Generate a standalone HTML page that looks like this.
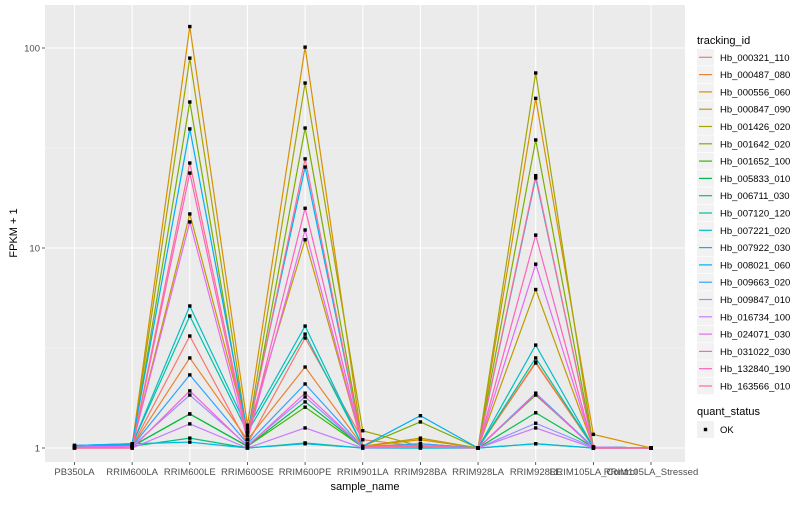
<!DOCTYPE html>
<html><head><meta charset="utf-8"><style>
body{margin:0;background:#fff;font-family:"Liberation Sans",sans-serif}
svg text{font-family:"Liberation Sans",sans-serif}
</style></head><body>
<svg id="chart" width="800" height="500"></svg>
<script>
const categories=["PB350LA","RRIM600LA","RRIM600LE","RRIM600SE","RRIM600PE","RRIM901LA","RRIM928BA","RRIM928LA","RRIM928LE","RRIM105LA_Control","RRIM105LA_Stressed"];
const seriesNames=["Hb_000321_110","Hb_000487_080","Hb_000556_060","Hb_000847_090","Hb_001426_020","Hb_001642_020","Hb_001652_100","Hb_005833_010","Hb_006711_030","Hb_007120_120","Hb_007221_020","Hb_007922_030","Hb_008021_060","Hb_009663_020","Hb_009847_010","Hb_016734_100","Hb_024071_030","Hb_031022_030","Hb_132840_190","Hb_163566_010"];
const colors=["#F8766D","#EA8331","#D89000","#C09B00","#A3A500","#7CAE00","#39B600","#00BB4E","#00BF7D","#00C1A3","#00BFC4","#00BAE0","#00B0F6","#35A2FF","#9590FF","#C77CFF","#E76BF3","#FA62DB","#FF62BC","#FF6C91"];
const seriesValues=[
[1.01,1.02,3.63,1.05,3.55,1.1,1.02,1.0,2.66,1.01,1.0],
[1.01,1.02,2.82,1.1,2.54,1.02,1.05,1.0,2.69,1.01,1.0],
[1.01,1.03,128,1.3,101,1.02,1.1,1.0,56,1.17,1.0],
[1.01,1.02,14.8,1.2,11,1.02,1.12,1.0,6.2,1.01,1.0],
[1.01,1.02,89,1.15,66.8,1.22,1.02,1.0,75,1.01,1.0],
[1.01,1.02,53.7,1.1,39.8,1.02,1.35,1.0,34.7,1.01,1.0],
[1.01,1.02,1.48,1.02,1.6,1.01,1.02,1.0,1.84,1.01,1.0],
[1.01,1.02,1.48,1.02,1.7,1.01,1.02,1.0,1.5,1.01,1.0],
[1.01,1.02,1.12,1.0,1.06,1.0,1.0,1.0,1.05,1.0,1.0],
[1.01,1.04,4.57,1.2,3.71,1.02,1.02,1.0,2.82,1.01,1.0],
[1.01,1.04,5.13,1.25,4.07,1.02,1.02,1.0,3.27,1.01,1.0],
[1.03,1.05,1.07,1.0,1.05,1.0,1.0,1.0,1.05,1.0,1.0],
[1.03,1.05,39.4,1.2,25.4,1.02,1.45,1.0,22.4,1.01,1.0],
[1.01,1.02,2.32,1.05,2.09,1.01,1.05,1.0,1.88,1.01,1.0],
[1.01,1.02,1.84,1.03,1.8,1.01,1.03,1.0,1.33,1.01,1.0],
[1.01,1.0,1.32,1.0,1.26,1.0,1.01,1.0,1.26,1.0,1.0],
[1.01,1.02,13.5,1.1,12.3,1.02,1.02,1.0,8.3,1.01,1.0],
[1.0,1.0,1.93,1.02,1.88,1.01,1.02,1.0,1.86,1.0,1.0],
[1.0,1.0,23.7,1.1,15.8,1.02,1.02,1.0,11.6,1.0,1.0],
[1.0,1.0,26.6,1.15,27.9,1.02,1.02,1.0,23,1.0,1.0]];
const yTicks=[1,10,100];
const yMinor=[Math.sqrt(10),Math.sqrt(1000)];
</script>
<script>
const NS="http://www.w3.org/2000/svg";
const svg=document.getElementById("chart");
function el(t,a,p){const e=document.createElementNS(NS,t);for(const k in a)e.setAttribute(k,a[k]);(p||svg).appendChild(e);return e;}
const PL=45,PR=685,PT=5,PB=462;
const x=i=>74.5+i*57.65;
const y=v=>448-200*Math.log10(v);
const panel=el("rect",{x:PL,y:PT,width:PR-PL,height:PB-PT,fill:"#EBEBEB"});


yMinor.forEach(v=>{const l=el("line",{x1:PL,x2:PR,y1:y(v),y2:y(v),stroke:"#F5F5F5","stroke-width":0.6});

});
yTicks.forEach(v=>{const l=el("line",{x1:PL,x2:PR,y1:y(v),y2:y(v),stroke:"#fff","stroke-width":1.1});


const t=el("text",{x:40,y:y(v)+3.5,"text-anchor":"end","font-size":9.5,fill:"#4D4D4D"});t.textContent=v;


el("line",{x1:42,x2:PL,y1:y(v),y2:y(v),stroke:"#333","stroke-width":0.8});});
categories.forEach((c,i)=>{const l=el("line",{x1:x(i),x2:x(i),y1:PT,y2:PB,stroke:"#fff","stroke-width":1.1});


el("line",{x1:x(i),x2:x(i),y1:PB,y2:PB+3,stroke:"#333","stroke-width":0.8});
const t=el("text",{x:x(i),y:475,"text-anchor":"middle","font-size":9.5,fill:"#4D4D4D"});t.textContent=c;

});
seriesValues.forEach((vals,s)=>{const p=el("polyline",{points:vals.map((v,i)=>x(i)+","+y(v)).join(" "),fill:"none",stroke:colors[s],"stroke-width":1.2});

});
seriesValues.forEach((vals,s)=>vals.forEach((v,i)=>{const r=el("rect",{x:x(i)-1.7,y:y(v)-1.7,width:3.4,height:3.4,fill:"#000"});

}));
const xt=el("text",{x:365,y:490,"text-anchor":"middle","font-size":11,fill:"#000"});xt.textContent="sample_name";


const yt=el("text",{x:0,y:0,transform:"translate(17,233) rotate(-90)","text-anchor":"middle","font-size":11,fill:"#000"});yt.textContent="FPKM + 1";


const lt=el("text",{x:697,y:44,"font-size":11,fill:"#000"});lt.textContent="tracking_id";


seriesNames.forEach((n,s)=>{const cy=57.3+s*17.3;
const g=el("g",{});


el("rect",{x:697,y:cy-8.3,width:17,height:16.6,fill:"#F2F2F2"},g);
el("line",{x1:699,x2:712,y1:cy,y2:cy,stroke:colors[s],"stroke-width":1.2},g);
const t=el("text",{x:720,y:cy+3.5,"font-size":9.5,fill:"#000"},g);t.textContent=n;});
const qt=el("text",{x:697,y:415,"font-size":11,fill:"#000"});qt.textContent="quant_status";


const og=el("g",{});


el("rect",{x:697,y:421,width:17,height:17,fill:"#F2F2F2"},og);
el("rect",{x:703.8,y:427.8,width:3.4,height:3.4,fill:"#000"},og);
const ot=el("text",{x:720,y:433,"font-size":9.5,fill:"#000"},og);ot.textContent="OK";
</script>
</body></html>
